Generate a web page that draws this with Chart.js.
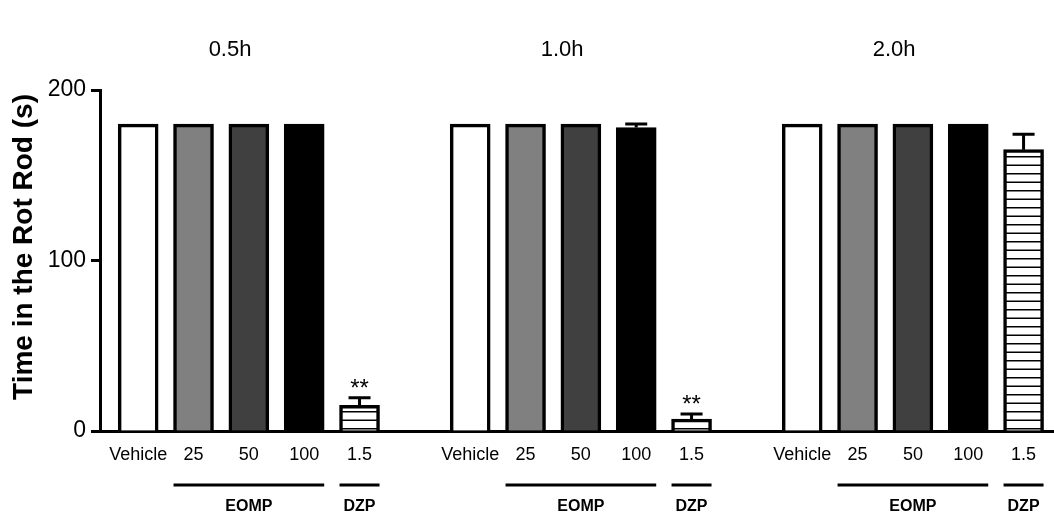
<!DOCTYPE html>
<html>
<head>
<meta charset="utf-8">
<script src="https://cdn.jsdelivr.net/npm/chart.js@4"></script>
<style>
  body { margin: 0; background: #fff; }
  #wrap { width: 1054px; height: 515px; }
</style>
</head>
<body>
<div id="wrap"><canvas id="rotRod"></canvas></div>
<script>
// time points, doses and treatments
const timePoints = ['0.5h', '1.0h', '2.0h'];
const doseLabels = ['Vehicle', '25', '50', '100', '1.5'];
const treatment = ['', 'EOMP', 'EOMP', 'EOMP', 'DZP'];

// mean time on rod (s) and SEM for each time point
const mean05 = [180, 180, 180, 180, 15];
const mean10 = [180, 180, 180, 178, 7];
const mean20 = [180, 180, 180, 180, 165];
const sem05 = [0, 0, 0, 0, 4.5];
const sem10 = [0, 0, 0, 2, 3];
const sem20 = [0, 0, 0, 0, 9];
const signif05 = ['', '', '', '', '**'];
const signif10 = ['', '', '', '', '**'];
const signif20 = ['', '', '', '', ''];

const yTicks = [0, 100, 200];
const yTitle = 'Time in the Rot Rod (s)';

const means = [mean05, mean10, mean20];
const sems = [sem05, sem10, sem20];
const signifs = [signif05, signif10, signif20];

const FONT = "'Liberation Sans', Arial, sans-serif";

// striped fill for DZP
function stripes() {
  const c = document.createElement('canvas');
  c.width = 17; c.height = 17;
  const g = c.getContext('2d');
  g.fillStyle = '#fff';
  g.fillRect(0, 0, 17, 17);
  g.fillStyle = '#000';
  g.fillRect(0, 3, 17, 1.5);
  g.fillRect(0, 11.5, 17, 1.5);
  return g.createPattern(c, 'repeat');
}
const fills = ['#ffffff', '#808080', '#404040', '#000000', stripes()];

// one slot per bar, one empty slot between time points
const perGroup = doseLabels.length + 1;
const points = [], colors = [], slotLabel = {}, slots = [];
timePoints.forEach((t, g) => {
  doseLabels.forEach((d, j) => {
    const s = g * perGroup + j;
    points.push({ x: s, y: means[g][j] });
    colors.push(fills[j]);
    slotLabel[s] = d;
    slots.push(s);
  });
});

const annotations = {
  id: 'annotations',
  afterDatasetsDraw(chart) {
    const ctx = chart.ctx;
    const xs = chart.scales.x, ys = chart.scales.y;
    const meta = chart.getDatasetMeta(0);
    ctx.save();
    ctx.strokeStyle = '#000';
    ctx.fillStyle = '#000';
    ctx.lineWidth = 3;
    timePoints.forEach((t, g) => {
      doseLabels.forEach((d, j) => {
        const x = xs.getPixelForValue(g * perGroup + j);
        const m = means[g][j], e = sems[g][j];
        const yTop = ys.getPixelForValue(m + e);
        if (e > 0) {
          ctx.beginPath();
          ctx.moveTo(x, ys.getPixelForValue(m));
          ctx.lineTo(x, yTop);
          ctx.moveTo(x - 11, yTop);
          ctx.lineTo(x + 11, yTop);
          ctx.stroke();
        }
        if (signifs[g][j]) {
          ctx.font = '24px ' + FONT;
          ctx.textAlign = 'center';
          ctx.textBaseline = 'alphabetic';
          ctx.fillText(signifs[g][j], x, yTop - 2);
        }
      });
    });

    // time point headers
    ctx.font = '22px ' + FONT;
    ctx.textAlign = 'center';
    ctx.textBaseline = 'middle';
    timePoints.forEach((t, g) => {
      ctx.fillText(t, xs.getPixelForValue(g * perGroup + 1.66), 50);
    });

    // y axis title
    ctx.save();
    ctx.translate(24, 247);
    ctx.rotate(-Math.PI / 2);
    ctx.font = 'bold 28px ' + FONT;
    ctx.fillText(yTitle, 0, 0);
    ctx.restore();

    // treatment bars under the axis
    timePoints.forEach((t, g) => {
      let j = 0;
      while (j < treatment.length) {
        const name = treatment[j];
        let k = j;
        while (k + 1 < treatment.length && treatment[k + 1] === name) k++;
        if (name) {
          const a = meta.data[g * doseLabels.length + j];
          const b = meta.data[g * doseLabels.length + k];
          const x0 = a.x - a.width / 2, x1 = b.x + b.width / 2;
          ctx.lineWidth = 3;
          ctx.beginPath();
          ctx.moveTo(x0, 485);
          ctx.lineTo(x1, 485);
          ctx.stroke();
          ctx.font = 'bold 16px ' + FONT;
          ctx.fillText(name, (x0 + x1) / 2, 507);
        }
        j = k + 1;
      }
    });
    ctx.restore();
  }
};

new Chart(document.getElementById('rotRod'), {
  type: 'bar',
  data: {
    datasets: [{
      data: points,
      backgroundColor: colors,
      borderColor: '#000',
      borderWidth: 3.5,
      barThickness: 40
    }]
  },
  options: {
    responsive: true,
    maintainAspectRatio: false,
    animation: false,
    layout: { padding: { top: 90, left: 0, right: 0, bottom: 0 } },
    plugins: { legend: { display: false }, tooltip: { enabled: false } },
    scales: {
      x: {
        type: 'linear',
        min: -0.69,
        max: 16.55,
        offset: false,
        afterBuildTicks: s => { s.ticks = slots.map(v => ({ value: v })); },
        afterFit: s => { s.height = 84; },
        grid: { display: false, offset: false },
        border: { color: '#000', width: 3 },
        ticks: {
          autoSkip: false,
          maxRotation: 0,
          padding: 5,
          color: '#000',
          font: { family: FONT, size: 18 },
          callback: v => slotLabel[v] || ''
        }
      },
      y: {
        min: 0,
        max: 200,
        afterBuildTicks: s => { s.ticks = yTicks.map(v => ({ value: v })); },
        afterFit: s => { s.width = 100; },
        grid: { drawOnChartArea: false, tickLength: 9, tickWidth: 3, tickColor: '#000' },
        border: { color: '#000', width: 3 },
        ticks: { color: '#000', padding: 5, font: { family: FONT, size: 23 } }
      }
    }
  },
  plugins: [annotations]
});
</script>
</body>
</html>
